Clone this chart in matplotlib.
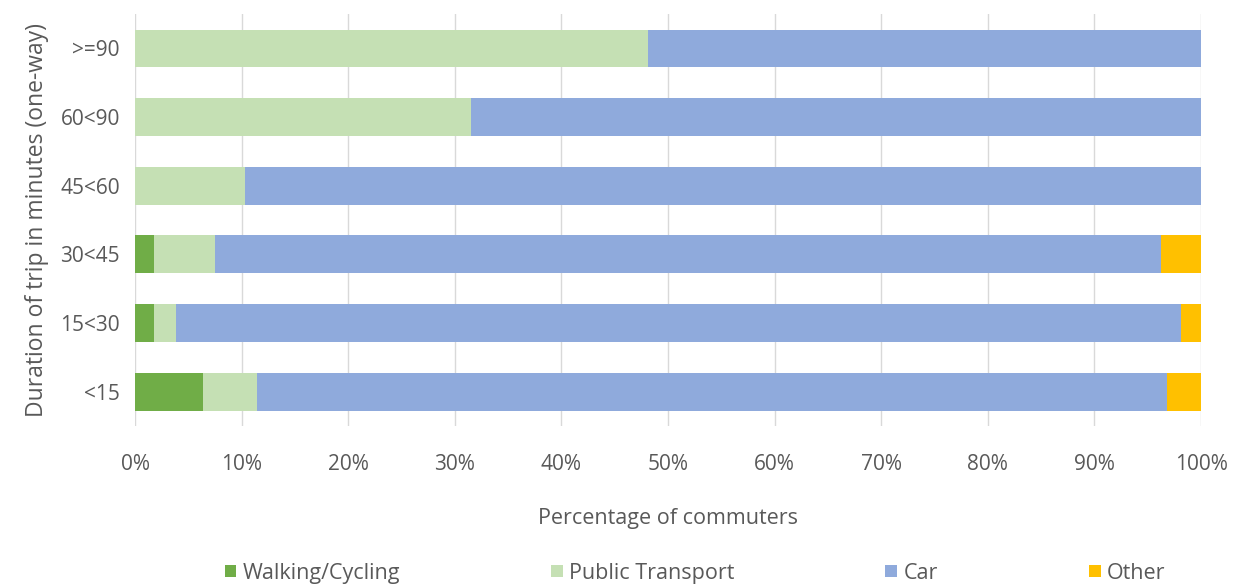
import numpy as np
import matplotlib.pyplot as plt

plt.rcParams['font.family'] = ['Open Sans', 'DejaVu Sans']

categories = ['<15', '15<30', '30<45', '45<60', '60<90', '>=90']
walking = [6.4, 1.8, 1.8, 0.0, 0.0, 0.0]
public = [5.0, 2.05, 5.7, 10.3, 31.5, 48.1]
car = [85.4, 94.25, 88.75, 89.7, 68.5, 51.9]
other = [3.2, 1.9, 3.75, 0.0, 0.0, 0.0]

series = [('Walking/Cycling', walking, '#70AD47'),
          ('Public Transport', public, '#C5E0B4'),
          ('Car', car, '#8FAADC'),
          ('Other', other, '#FFC000')]

fig = plt.figure(figsize=(12.39, 5.86), dpi=100)
ax = fig.add_axes([0.109, 0.273, 0.8604, 0.703])

y = np.arange(len(categories))
left = np.zeros(len(categories))
for name, vals, col in series:
    vals = np.array(vals)
    ax.barh(y, vals, left=left, height=0.55, color=col, label=name, zorder=3)
    left = left + vals

txt = '#595959'
ax.set_xlim(0, 100)
ax.set_ylim(-0.5, 5.5)
ax.set_xticks(np.arange(0, 101, 10))
ax.set_xticklabels([f'{v}%' for v in range(0, 101, 10)])
ax.set_yticks(y)
ax.set_yticklabels(categories)
ax.tick_params(length=0, labelsize=15, colors=txt)
ax.tick_params(axis='x', pad=20)
ax.tick_params(axis='y', pad=11)
ax.grid(axis='x', color='#D9D9D9', linewidth=1, zorder=0)
for s in ax.spines.values():
    s.set_visible(False)

ax.set_xlabel('Percentage of commuters', fontsize=15.5, color=txt, labelpad=24)
ax.set_ylabel('Duration of trip in minutes (one-way)', fontsize=16.5, color=txt, labelpad=8)

# legend columns roughly matched to the reference spacing
leg = fig.legend(loc='center', bbox_to_anchor=(0.561, 0.022), ncol=4, frameon=False,
                 fontsize=15.5, handlelength=0.55, handleheight=0.55, handletextpad=0.3,
                 columnspacing=7.0)
for t in leg.get_texts():
    t.set_color(txt)

fig.savefig('out.png', dpi=100)
